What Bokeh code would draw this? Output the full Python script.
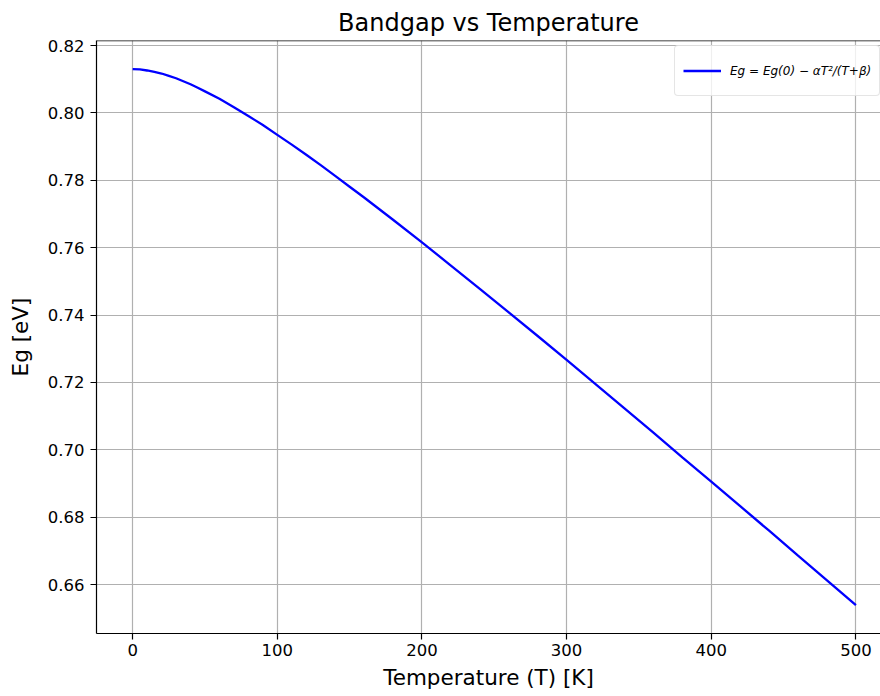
from bokeh.plotting import figure
from bokeh.models import Legend, LegendItem, FixedTicker, NumeralTickFormatter, Range1d, Span
from bokeh.embed import file_html
from bokeh.resources import INLINE

# Data
temperature_K = [0, 5, 10, 15, 20, 25, 30, 35, 40, 45, 50, 60, 70, 80, 90, 100,
                 110, 120, 130, 140, 150, 160, 180, 200, 220, 240, 260, 280, 300,
                 320, 340, 360, 380, 400, 420, 440, 460, 480, 500]
bandgap_eV = [0.8130, 0.8129, 0.8126, 0.8122, 0.8117, 0.8110, 0.8103, 0.8094,
              0.8085, 0.8075, 0.8064, 0.8042, 0.8017, 0.7991, 0.7964, 0.7935,
              0.7906, 0.7876, 0.7845, 0.7813, 0.7781, 0.7749, 0.7683, 0.7616,
              0.7547, 0.7478, 0.7408, 0.7338, 0.7267, 0.7195, 0.7123, 0.7051,
              0.6978, 0.6906, 0.6833, 0.6760, 0.6686, 0.6613, 0.6539]
x_ticks = [0, 100, 200, 300, 400, 500]
y_ticks = [0.66, 0.68, 0.70, 0.72, 0.74, 0.76, 0.78, 0.80, 0.82]
title_text = "Bandgap vs Temperature"
x_label = "Temperature (T) [K]"
y_label = "Eg [eV]"
legend_label = "Eg = Eg(0) − αT²/(T+β)"

FONT = "DejaVu Sans"
Y_TOP = 0.8215

p = figure(width=880, height=696, output_backend="svg", toolbar_location=None,
           x_range=Range1d(-25, 517), y_range=Range1d(0.6455, Y_TOP),
           min_border_left=96, min_border_right=0, min_border_top=40,
           min_border_bottom=63)

p.title.text = title_text
p.title.align = "center"
p.title.text_font = FONT
p.title.text_font_size = "24px"
p.title.text_font_style = "normal"
p.title.text_color = "#000000"
p.title.standoff = 8

r = p.line(temperature_K, bandgap_eV, line_color="#0000ff", line_width=2.3)

for ax in (p.xaxis[0], p.yaxis[0]):
    ax.axis_line_color = "#000000"
    ax.axis_line_width = 1.2
    ax.major_tick_line_color = "#000000"
    ax.major_tick_line_width = 1.2
    ax.major_tick_out = 6
    ax.major_tick_in = 0
    ax.minor_tick_line_color = None
    ax.major_label_text_font = FONT
    ax.major_label_text_font_size = "16.5px"
    ax.major_label_text_color = "#000000"
    ax.axis_label_text_font = FONT
    ax.axis_label_text_font_size = "21.5px"
    ax.axis_label_text_font_style = "normal"
    ax.axis_label_text_color = "#000000"

p.xaxis[0].ticker = FixedTicker(ticks=x_ticks)
p.yaxis[0].ticker = FixedTicker(ticks=y_ticks)
p.yaxis[0].formatter = NumeralTickFormatter(format="0.00")
p.xaxis[0].axis_label = x_label
p.yaxis[0].axis_label = y_label
p.xaxis[0].major_label_standoff = 4
p.xaxis[0].axis_label_standoff = 6
p.yaxis[0].major_label_standoff = 6
p.yaxis[0].axis_label_standoff = 12

p.xgrid.grid_line_color = "#b0b0b0"
p.ygrid.grid_line_color = "#b0b0b0"
p.xgrid.grid_line_width = 1.2
p.ygrid.grid_line_width = 1.2

# top spine only (the right spine lies beyond the picture's edge)
p.outline_line_color = None
p.add_layout(Span(location=Y_TOP, dimension="width", line_color="#000000", line_width=1.5))

p.background_fill_color = "#ffffff"
p.border_fill_color = "#ffffff"

legend = Legend(items=[LegendItem(label=legend_label, renderers=[r])],
                location=(578, 537))
legend.label_text_font = FONT
legend.label_text_font_size = "12px"
legend.label_text_font_style = "italic"
legend.label_text_color = "#000000"
legend.glyph_width = 38
legend.glyph_height = 33
legend.label_height = 33
legend.border_line_color = "#cccccc"
legend.border_line_width = 1
legend.border_radius = 4
legend.background_fill_alpha = 0.8
legend.padding = 8
legend.margin = 0
legend.label_standoff = 9
p.add_layout(legend)

open("out.html", "w").write(file_html(p, INLINE))
